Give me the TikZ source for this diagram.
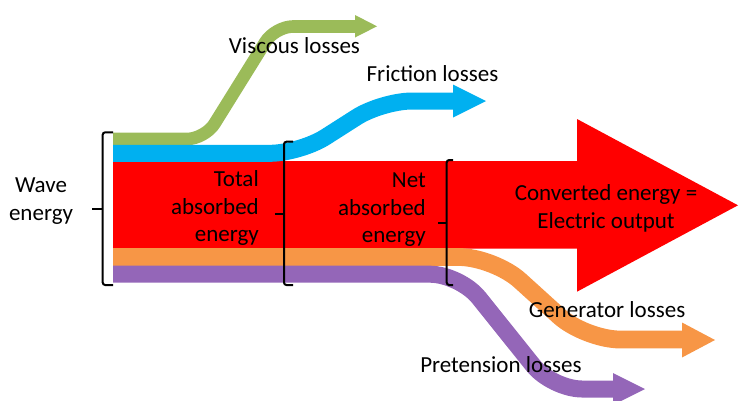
\documentclass[tikz,border=0pt]{standalone}
\usepackage{fontspec}
\setmainfont{Carlito}
\definecolor{cgreen}{RGB}{155,187,89}
\definecolor{cblue}{RGB}{0,176,240}
\definecolor{cred}{RGB}{255,0,0}
\definecolor{corange}{RGB}{247,150,70}
\definecolor{cpurple}{RGB}{148,102,184}
\begin{document}
\begin{tikzpicture}[x=1pt,y=-1pt,
  lbl/.style={font=\fontsize{23}{27.5}\selectfont, inner sep=0pt, text=black},
  bracketline/.style={draw=black, line width=2pt, rounded corners=2.5pt},
  tickline/.style={draw=black, line width=2pt},
]
\useasboundingbox (0,0) rectangle (739,400);

% coordinates
\coordinate (gS) at (113,139);   \coordinate (gA) at (205,139);
\coordinate (gB) at (275,26.5);  \coordinate (gE) at (356,26.5);
\coordinate (bS) at (113,153.3); \coordinate (bA) at (300,153.3);
\coordinate (bB) at (382,101);   \coordinate (bE) at (454,101);
\coordinate (oS) at (113,257);   \coordinate (oA) at (494,257);
\coordinate (oB) at (585,339.5); \coordinate (oE) at (683,339.5);
\coordinate (pS) at (113,274.2); \coordinate (pA) at (460,274.2);
\coordinate (pB) at (552,389);   \coordinate (pE) at (614,389);

% red main arrow
\fill[cred] (113,161) -- (577,161) -- (577,119) -- (738,205.3) -- (577,291.7) -- (577,248.5) -- (113,248.5) -- cycle;

% green
\draw[cgreen, line width=12.6pt, rounded corners=18pt] (gS) -- (gA) -- (gB) -- (gE);
\fill[cgreen] (355,15) -- (377,26.3) -- (355,37.5) -- cycle;

% blue
\draw[cblue, line width=17pt, rounded corners=30pt] (bS) -- (bA) -- (bB) -- (bE);
\fill[cblue] (453,84.5) -- (486,101) -- (453,117.5) -- cycle;

% orange
\draw[corange, line width=17.8pt, rounded corners=35pt] (oS) -- (oA) -- (oB) -- (oE);
\fill[corange] (682,322.5) -- (715,340) -- (682,357.5) -- cycle;

% purple
\draw[cpurple, line width=17pt, rounded corners=30pt] (pS) -- (pA) -- (pB) -- (pE);
\fill[cpurple] (613,373) -- (645,389) -- (613,405) -- cycle;

% brackets
\draw[bracketline] (113,132.3) -- (102.7,132.3) -- (102.7,285) -- (113,285);
\draw[tickline] (102.7,209) -- (91.7,209);
\draw[bracketline] (293,141.7) -- (284,141.7) -- (284,285) -- (293,285);
\draw[tickline] (284,214) -- (275,214);
\draw[bracketline] (453,160) -- (446.7,160) -- (446.7,285) -- (453,285);
\draw[tickline] (446.7,223) -- (437.7,223);

% labels
\node[lbl, align=center] (wave) at (41,201) {Wave\\energy};
\node[lbl, align=right, anchor=east] (total) at (259,208) {Total\\absorbed\\energy};
\node[lbl, align=right, anchor=east] (net) at (426,210) {Net\\absorbed\\energy};
\node[lbl, align=center] (conv) at (606,208.5) {Converted energy =\\Electric output};
\node[lbl, anchor=base] (visc) at (294.5,53.3) {Viscous losses};
\node[lbl, anchor=base] (fric) at (432.5,81.7) {Friction losses};
\node[lbl, anchor=base] (gen) at (607,317.3) {Generator losses};
\node[lbl, anchor=base] (pret) at (501,372.7) {Pretension losses};
\end{tikzpicture}
\end{document}
